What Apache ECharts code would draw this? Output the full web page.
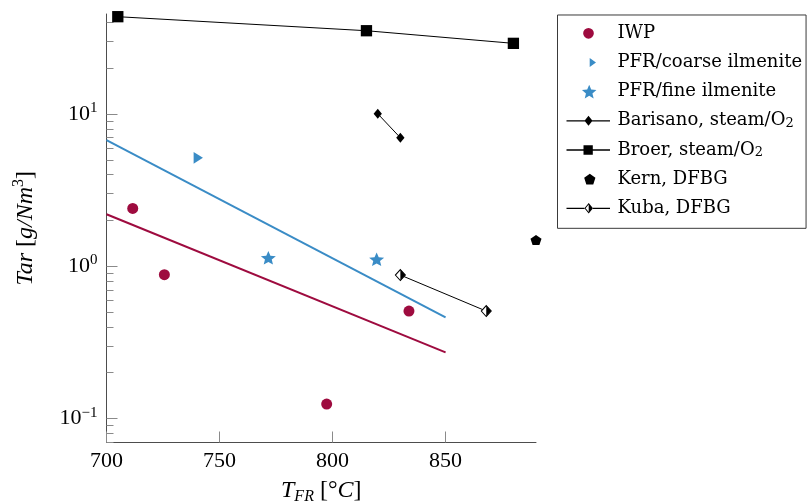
<!DOCTYPE html>
<html><head><meta charset="utf-8">
<script src="https://cdn.jsdelivr.net/npm/echarts@6/dist/echarts.min.js"></script>
<style>html,body{margin:0;padding:0;background:#fff}#c{width:809px;height:503px}</style>
</head><body><div id="c"></div>
<script>
// ---------- data ----------
const iwpX = [711.6, 725.6, 797.4, 833.8];
const iwpY = [2.39, 0.877, 0.124, 0.506];
const pfrCoarseX = [740.6];
const pfrCoarseY = [5.14];
const pfrFineX = [771.6, 819.5];
const pfrFineY = [1.12, 1.095];
const iwpFitX = [700, 850];
const iwpFitY = [2.19, 0.271];
const pfrFitX = [700, 850];
const pfrFitY = [6.72, 0.46];
const barisanoX = [820, 830];
const barisanoY = [10.0, 6.96];
const broerX = [705, 815, 880];
const broerY = [43.4, 35.1, 29.0];
const kernX = [890];
const kernY = [1.47];
const kubaX = [830, 868];
const kubaY = [0.873, 0.506];
const xTickValues = [700, 750, 800, 850];
const yTickValues = [0.1, 1, 10];
const yTickExponents = ['\u22121', '0', '1'];
const yMinorTickValues = [0.07, 0.08, 0.09, 0.2, 0.3, 0.4, 0.5, 0.6, 0.7, 0.8, 0.9, 2, 3, 4, 5, 6, 7, 8, 9, 20, 30, 40];
const seriesNames = ['IWP', 'PFR/coarse ilmenite', 'PFR/fine ilmenite', 'Barisano, steam/O2', 'Broer, steam/O2', 'Kern, DFBG', 'Kuba, DFBG'];

// ---------- styling ----------
const RED = '#9e0b3f';
const BLUE = '#3a8cc6';
const X_MIN = 700, X_MAX = 890, Y_MIN = 0.0694, Y_MAX = 45.2;
const MATH = 'Liberation Serif';
const LEG = 'DejaVu Serif';

const zip = (xs, ys) => xs.map((x, i) => [x, ys[i]]);
const f = v => v.toFixed(3);

function starPath(cx, cy, R, r) {
  let d = '';
  for (let i = 0; i < 10; i++) {
    const a = -Math.PI / 2 + i * Math.PI / 5, rr = i % 2 ? r : R;
    d += (i ? 'L' : 'M') + f(cx + rr * Math.cos(a)) + ',' + f(cy + rr * Math.sin(a));
  }
  return d + 'Z';
}
function pentPath(cx, cy, R) {
  let d = '';
  for (let i = 0; i < 5; i++) {
    const a = -Math.PI / 2 + i * 2 * Math.PI / 5;
    d += (i ? 'L' : 'M') + f(cx + R * Math.cos(a)) + ',' + f(cy + R * Math.sin(a));
  }
  return d + 'Z';
}
function rectPath(x1, y1, x2, y2) {
  return 'M' + f(x1) + ',' + f(y1) + 'L' + f(x2) + ',' + f(y1) + 'L' + f(x2) + ',' + f(y2) + 'L' + f(x1) + ',' + f(y2) + 'Z';
}
function diamondPath(cx, cy, hw, hh) {
  return 'M' + f(cx) + ',' + f(cy - hh) + 'L' + f(cx + hw) + ',' + f(cy) + 'L' + f(cx) + ',' + f(cy + hh) + 'L' + f(cx - hw) + ',' + f(cy) + 'Z';
}
// legend icon box
const LW = 46, LH = 18, LCY = 9;
const corners = 'M0,0L0.01,0L0.01,0.01Z M' + (LW - 0.01) + ',' + (LH - 0.01) + 'L' + LW + ',' + (LH - 0.01) + 'L' + LW + ',' + LH + 'Z ';
const lineL = (a, b) => rectPath(a, LCY - 0.65, b, LCY + 0.65);
function circleP(cx, cy, r) {
  return 'M' + f(cx - r) + ',' + f(cy) + 'A' + r + ',' + r + ' 0 1,0 ' + f(cx + r) + ',' + f(cy) + 'A' + r + ',' + r + ' 0 1,0 ' + f(cx - r) + ',' + f(cy) + 'Z';
}
function kubaIcon(cx, cy, hw, hh) {
  const outer = diamondPath(cx, cy, hw, hh);
  const hole = 'M' + f(cx) + ',' + f(cy - hh + 1.5) + 'L' + f(cx - hw + 1.2) + ',' + f(cy) + 'L' + f(cx) + ',' + f(cy + hh - 1.5) + 'Z';
  return outer + ' ' + hole;
}
const legendIcons = [
  corners + circleP(22, LCY, 5.35),
  corners + 'M23.2,4.5L29.5,9L23.2,13.5Z',
  corners + starPath(22.7, LCY + 0.7, 7.6, 3.4),
  corners + lineL(0, 43.5) + ' ' + diamondPath(22, LCY, 4, 5),
  corners + lineL(0, 43.5) + ' ' + rectPath(17, LCY - 4.7, 26.3, LCY + 4.7),
  corners + pentPath(23.3, LCY + 0.5, 5.9),
  corners + lineL(0, 22.2 - 4.3) + ' ' + lineL(22.2 + 4.3, 43.5) + ' ' + kubaIcon(22.2, LCY, 4.3, 5.3)
];
const legendColors = [RED, BLUE, BLUE, '#000', '#000', '#000', '#000'];

const chart = echarts.init(document.getElementById('c'), null, {renderer: 'canvas'});
const option = {
  animation: false,
  backgroundColor: '#fff',
  textStyle: {fontFamily: MATH},
  grid: {left: 106.5, right: 273, top: 14, bottom: 60.5, containLabel: false, outerBoundsMode: 'none'},
  xAxis: {
    type: 'value', min: X_MIN, max: X_MAX,
    name: '{i|T}{sub|FR}{r| [°}{i|C}{r|]}',
    nameLocation: 'middle', nameGap: 34,
    nameTextStyle: {
      rich: {
        i: {fontFamily: MATH, fontStyle: 'italic', fontSize: 24, lineHeight: 28, color: '#000'},
        r: {fontFamily: MATH, fontSize: 24, lineHeight: 28, color: '#000'},
        sub: {fontFamily: MATH, fontStyle: 'italic', fontSize: 16, lineHeight: 14, verticalAlign: 'bottom', color: '#000'}
      }
    },
    axisLine: {onZero: false, lineStyle: {color: '#4d4d4d', width: 1}},
    axisTick: {inside: true, length: 11, customValues: xTickValues, lineStyle: {color: '#8a8a8a', width: 1}},
    axisLabel: {customValues: xTickValues, margin: 8, fontFamily: MATH, fontSize: 22, color: '#000'},
    splitLine: {show: false}
  },
  yAxis: {
    type: 'log', logBase: 10, min: Y_MIN, max: Y_MAX,
    name: '{i|Tar}{r| [}{i|g/Nm}{sup|3}{r|]}',
    nameLocation: 'middle', nameGap: 66, nameRotate: 90,
    nameTextStyle: {
      rich: {
        i: {fontFamily: MATH, fontStyle: 'italic', fontSize: 24, lineHeight: 30, color: '#000'},
        r: {fontFamily: MATH, fontSize: 24, lineHeight: 30, color: '#000'},
        sup: {fontFamily: MATH, fontSize: 16, lineHeight: 16, verticalAlign: 'top', color: '#000'}
      }
    },
    axisLine: {onZero: false, lineStyle: {color: '#4d4d4d', width: 1}},
    axisTick: {inside: true, length: 11, customValues: yTickValues, lineStyle: {color: '#8a8a8a', width: 1}},
    axisLabel: {
      customValues: yTickValues, margin: 9,
      formatter: function (v) {
        let k = 0, best = 1e9;
        yTickValues.forEach((t, i) => { const d = Math.abs(Math.log10(t) - Math.log10(v)); if (d < best) { best = d; k = i; } });
        return '{b|10}{s|' + yTickExponents[k] + '}';
      },
      rich: {
        b: {fontFamily: MATH, fontSize: 22, lineHeight: 26, color: '#000'},
        s: {fontFamily: MATH, fontSize: 15, lineHeight: 16, verticalAlign: 'top', color: '#000'}
      }
    },
    splitLine: {show: false},
    minorTick: {show: false}
  },
  legend: {
    orient: 'vertical', left: 557.5, top: 15,
    padding: [9.3, 4, 11, 9],
    itemWidth: LW, itemHeight: LH, itemGap: 11.17,
    backgroundColor: '#fff', borderColor: '#3a3a3a', borderWidth: 1, borderRadius: 0,
    selectedMode: false,
    data: seriesNames.map((n, i) => ({name: n, icon: 'path://' + legendIcons[i], itemStyle: {color: legendColors[i], borderWidth: 0, borderColor: 'transparent'}})),
    formatter: function (name) {
      if (/O2$/.test(name)) return '{t|' + name.slice(0, -1) + '}{sub|2}';
      return '{t|' + name + '}';
    },
    textStyle: {
      color: '#000',
      rich: {
        t: {fontFamily: LEG, fontSize: 18, lineHeight: 18, color: '#000'},
        sub: {fontFamily: LEG, fontSize: 13, lineHeight: 10, verticalAlign: 'bottom', color: '#000'}
      }
    }
  },
  series: [
    {name: 'IWP fit', type: 'line', data: zip(iwpFitX, iwpFitY), symbol: 'none', clip: false, lineStyle: {color: RED, width: 2}, z: 2},
    {name: 'PFR fit', type: 'line', data: zip(pfrFitX, pfrFitY), symbol: 'none', clip: false, lineStyle: {color: BLUE, width: 2}, z: 2},
    {name: seriesNames[0], type: 'scatter', data: zip(iwpX, iwpY), symbol: 'circle', symbolSize: 11, clip: false, itemStyle: {color: RED, opacity: 1}, z: 3},
    {name: seriesNames[1], type: 'scatter', data: zip(pfrCoarseX, pfrCoarseY), symbol: 'triangle', symbolRotate: -90, symbolSize: [11.7, 9.3], clip: false, itemStyle: {color: BLUE, opacity: 1}, z: 3},
    {name: seriesNames[2], type: 'scatter', data: zip(pfrFineX, pfrFineY), symbol: 'path://' + starPath(0, 0, 10, 4.5), symbolKeepAspect: true, symbolSize: [15, 14.27], symbolOffset: [0, -0.75], clip: false, itemStyle: {color: BLUE, opacity: 1}, z: 3},
    {name: seriesNames[3], type: 'line', data: zip(barisanoX, barisanoY), symbol: 'diamond', symbolSize: [8.3, 10], showAllSymbol: true, clip: false, lineStyle: {color: '#000', width: 1}, itemStyle: {color: '#000'}, z: 4},
    {name: seriesNames[4], type: 'line', data: zip(broerX, broerY), symbol: 'rect', symbolSize: 11.3, showAllSymbol: true, clip: false, lineStyle: {color: '#000', width: 1}, itemStyle: {color: '#000'}, z: 4},
    {name: seriesNames[5], type: 'scatter', data: zip(kernX, kernY), symbol: 'path://' + pentPath(0, 0, 10), symbolKeepAspect: true, symbolSize: [11, 10.46], symbolOffset: [0, -0.55], clip: false, itemStyle: {color: '#000', opacity: 1}, z: 4},
    {name: seriesNames[6], type: 'line', data: zip(kubaX, kubaY), symbol: 'diamond', symbolSize: [10, 11], showAllSymbol: true, clip: false, lineStyle: {color: '#000', width: 1}, itemStyle: {color: '#fff', borderColor: '#000', borderWidth: 1}, z: 4},
    {name: 'Kuba half', type: 'scatter', data: zip(kubaX, kubaY), symbol: 'path://M0,0L1,1L0,2Z', symbolSize: [5, 11], symbolOffset: [2.5, 0], clip: false, itemStyle: {color: '#000', opacity: 1}, z: 5},
    {
      name: 'minor ticks', type: 'custom', silent: true, clip: false, z: 1,
      data: yMinorTickValues.map(v => [X_MIN, v]),
      encode: {x: 0, y: 1},
      renderItem: function (params, api) {
        const p = api.coord([api.value(0), api.value(1)]);
        const y = Math.round(p[1]) + 0.5;
        return {type: 'line', shape: {x1: p[0], y1: y, x2: p[0] + 7, y2: y}, style: {stroke: '#8a8a8a', lineWidth: 1}};
      }
    }
  ]
};
chart.setOption(option);
</script>
</body></html>
